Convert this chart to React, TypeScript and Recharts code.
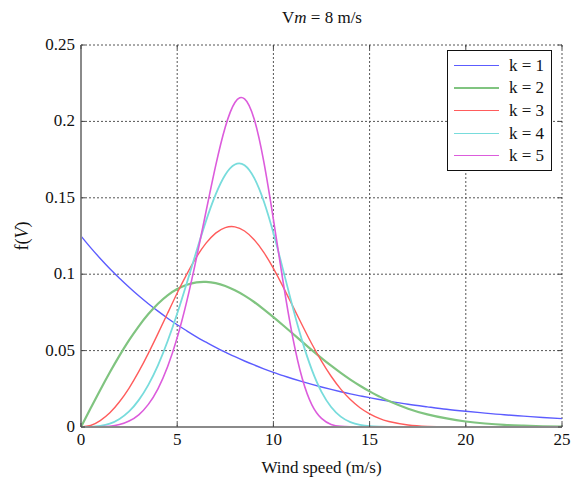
import React from 'react';
import {
  LineChart,
  Line,
  XAxis,
  YAxis,
  CartesianGrid,
  Legend,
} from 'recharts';

// wind speed samples (m/s)
const speeds = [
  0, 0.5, 1, 1.5, 2, 2.5, 3, 3.5, 4, 4.5, 5, 5.5, 6, 6.5, 7, 7.5, 8, 8.5, 9, 9.5,
  10, 10.5, 11, 11.5, 12, 12.5, 13, 13.5, 14, 14.5, 15, 15.5, 16,
  17, 18, 19, 20, 21, 22, 23, 24, 25,
];

// f(V), one list per shape factor
const k1 = [
  0.125, 0.1174, 0.1103, 0.1036, 0.0974, 0.0915, 0.0859, 0.0807, 0.0758, 0.0712,
  0.0669, 0.0629, 0.0590, 0.0555, 0.0521, 0.0490, 0.0460, 0.0432, 0.0406, 0.0381,
  0.0358, 0.0336, 0.0316, 0.0297, 0.0279, 0.0262, 0.0246, 0.0231, 0.0217, 0.0204,
  0.0192, 0.0180, 0.0169,
  0.0149, 0.0132, 0.0116, 0.0103, 0.0091, 0.0080, 0.0071, 0.0062, 0.0055,
];
const k2 = [
  0, 0.0122, 0.0242, 0.0358, 0.0467, 0.0568, 0.0659, 0.0739, 0.0807, 0.0862,
  0.0903, 0.0931, 0.0947, 0.0950, 0.0942, 0.0923, 0.0895, 0.0860, 0.0818, 0.0770,
  0.0719, 0.0666, 0.0612, 0.0557, 0.0503, 0.0451, 0.0401, 0.0354, 0.0310, 0.0270,
  0.0233, 0.0200, 0.0170,
  0.0120, 0.0083, 0.0056, 0.0036, 0.0023, 0.0014, 0.0009, 0.0005, 0.0003,
];
const k3 = [
  0, 0.0010, 0.0042, 0.0093, 0.0165, 0.0255, 0.0362, 0.0482, 0.0611, 0.0744,
  0.0877, 0.1001, 0.1112, 0.1203, 0.1269, 0.1305, 0.1310, 0.1283, 0.1226, 0.1143,
  0.1038, 0.0919, 0.0793, 0.0666, 0.0543, 0.0431, 0.0332, 0.0248, 0.0180, 0.0126,
  0.0086, 0.0056, 0.0036,
  0.0013, 0.0004, 0.0001, 0, 0, 0, 0, 0, 0,
];
const k4 = [
  0, 0.0001, 0.0007, 0.0022, 0.0053, 0.0102, 0.0176, 0.0276, 0.0404, 0.0561,
  0.0743, 0.0943, 0.1150, 0.1349, 0.1522, 0.1651, 0.1718, 0.1713, 0.1630, 0.1477,
  0.1269, 0.1030, 0.0786, 0.0562, 0.0374, 0.0230, 0.0131, 0.0068, 0.0032, 0.0014,
  0.0005, 0.0002, 0.0001,
  0, 0, 0, 0, 0, 0, 0, 0, 0,
];
const k5 = [
  0, 0, 0.0001, 0.0005, 0.0016, 0.0039, 0.0080, 0.0148, 0.0250, 0.0394,
  0.0585, 0.0824, 0.1105, 0.1411, 0.1711, 0.1964, 0.2124, 0.2148, 0.2016, 0.1737,
  0.1359, 0.0953, 0.0590, 0.0317, 0.0145, 0.0056, 0.0017, 0.0004, 0.0001, 0,
  0, 0, 0,
  0, 0, 0, 0, 0, 0, 0, 0, 0,
];

const seriesKeys = ['k1', 'k2', 'k3', 'k4', 'k5'];
const seriesNames = ['k = 1', 'k = 2', 'k = 3', 'k = 4', 'k = 5'];
const seriesColors = ['#5c5cff', '#80c480', '#ff5c5c', '#78dcdc', '#dc5cdc'];
const seriesWidths = [1.4, 2.2, 1.4, 1.8, 1.6];

const xTicks = [0, 5, 10, 15, 20, 25];
const yTicks = [0, 0.05, 0.1, 0.15, 0.2, 0.25];

const FONT = '"Liberation Serif", "Times New Roman", Times, serif';
const PLOT_TOP = 45;
const PLOT_BOTTOM = 427;
const PLOT_LEFT = 81;
const PLOT_RIGHT = 562;
const FRAME = { stroke: '#8a8a8a', strokeWidth: 2 };

const data = speeds.map((v, i) => ({
  v,
  k1: k1[i],
  k2: k2[i],
  k3: k3[i],
  k4: k4[i],
  k5: k5[i],
}));

// x tick label + small inward marks on bottom and top frame
const XTick = ({ x, payload }: any) => (
  <g>
    <line x1={x} x2={x} y1={PLOT_BOTTOM} y2={PLOT_BOTTOM - 4} stroke="#444" />
    <line x1={x} x2={x} y1={PLOT_TOP} y2={PLOT_TOP + 4} stroke="#444" />
    <text x={x} y={PLOT_BOTTOM + 18} textAnchor="middle" style={{ fontFamily: FONT }} fontSize={17} fill="#111">
      {payload.value}
    </text>
  </g>
);

const YTick = ({ y, payload }: any) => (
  <g>
    <line x1={PLOT_LEFT} x2={PLOT_LEFT + 4} y1={y} y2={y} stroke="#444" />
    <line x1={PLOT_RIGHT} x2={PLOT_RIGHT - 4} y1={y} y2={y} stroke="#444" />
    <text x={PLOT_LEFT - 6} y={y} dy={5} textAnchor="end" style={{ fontFamily: FONT }} fontSize={17} fill="#111">
      {payload.value}
    </text>
  </g>
);

const LegendBox = ({ payload }: any) => (
  <div
    style={{
      border: '1.5px solid #111',
      background: '#fff',
      padding: '3px 7px 3px 6px',
      fontFamily: FONT,
      fontSize: 17,
      lineHeight: 1,
      color: '#111',
    }}
  >
    {(payload || []).map((entry: any, i: number) => (
      <div key={`leg-${i}`} style={{ display: 'flex', alignItems: 'center', height: 22.6 }}>
        <span
          style={{
            display: 'inline-block',
            width: 45,
            height: 0,
            borderTop: `${seriesWidths[i] > 2 ? 2.5 : 1.6}px solid ${entry.color}`,
            marginRight: 10,
          }}
        />
        <span>{entry.value}</span>
      </div>
    ))}
  </div>
);

export default function App() {
  return (
    <div style={{ position: 'absolute', left: 0, top: 0, width: 577, height: 482, background: '#fff' }}>
      <div
        style={{
          position: 'absolute',
          left: 0,
          width: 644,
          top: 8,
          textAlign: 'center',
          fontFamily: FONT,
          fontSize: 17,
          color: '#111',
          zIndex: 2,
        }}
      >
        V<i>m</i> = 8 m/s
      </div>
      <LineChart
        width={577}
        height={482}
        data={data}
        margin={{ top: PLOT_TOP, right: 577 - PLOT_RIGHT, bottom: 482 - PLOT_BOTTOM - 30, left: PLOT_LEFT - 60 }}
      >
        <CartesianGrid stroke="#555" strokeDasharray="2 2" strokeWidth={1} />
        <XAxis
          dataKey="v"
          type="number"
          domain={[0, 25]}
          ticks={xTicks}
          height={30}
          tick={<XTick />}
          tickLine={false}
          axisLine={FRAME}
          label={{
            value: 'Wind speed (m/s)',
            position: 'insideBottom',
            offset: -16,
            style: { fontFamily: FONT, fontSize: 17, fill: '#111' },
          }}
        />
        <XAxis
          xAxisId="top"
          orientation="top"
          dataKey="v"
          type="number"
          domain={[0, 25]}
          height={0}
          tick={false}
          tickLine={false}
          axisLine={FRAME}
        />
        <YAxis
          type="number"
          domain={[0, 0.25]}
          ticks={yTicks}
          width={60}
          tick={<YTick />}
          tickLine={false}
          axisLine={FRAME}
          label={{
            content: () => (
              <text
                x={28}
                y={(PLOT_TOP + PLOT_BOTTOM) / 2}
                transform={`rotate(-90 28 ${(PLOT_TOP + PLOT_BOTTOM) / 2})`}
                textAnchor="middle"
                style={{ fontFamily: FONT }}
                fontSize={18}
                fill="#111"
              >
                f(<tspan fontStyle="italic">V</tspan>)
              </text>
            ),
          }}
        />
        <YAxis
          yAxisId="right"
          orientation="right"
          type="number"
          domain={[0, 0.25]}
          width={0}
          tick={false}
          tickLine={false}
          axisLine={FRAME}
        />
        {seriesKeys.map((key, i) => (
          <Line
            key={key}
            dataKey={key}
            name={seriesNames[i]}
            type="natural"
            stroke={seriesColors[i]}
            strokeWidth={seriesWidths[i]}
            dot={false}
            activeDot={false}
            isAnimationActive={false}
          />
        ))}
        <Legend
          content={<LegendBox />}
          layout="vertical"
          verticalAlign="middle"
          align="center"
          wrapperStyle={{ position: 'absolute', top: 50, left: 447, width: 'auto', right: 'auto', bottom: 'auto' }}
        />
      </LineChart>
    </div>
  );
}
